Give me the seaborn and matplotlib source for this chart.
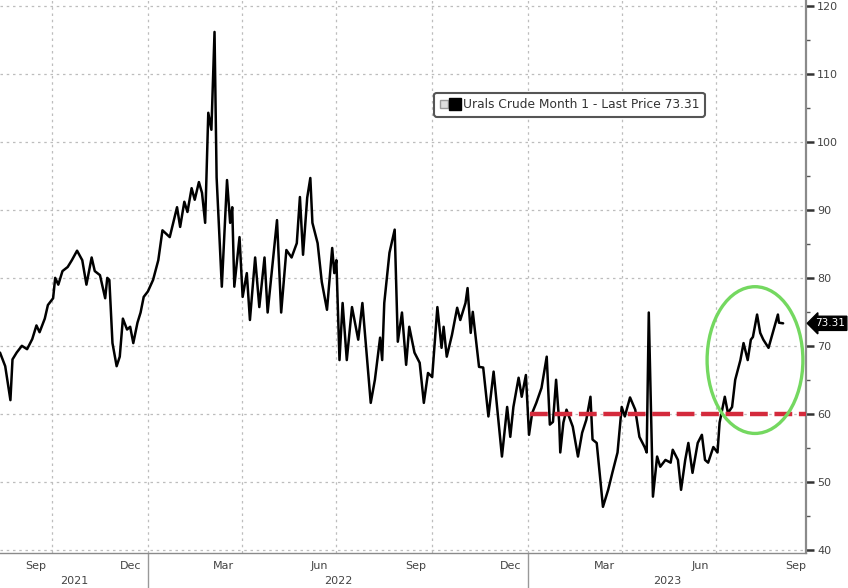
import matplotlib
matplotlib.use("Agg")
import matplotlib.pyplot as plt
import matplotlib.dates as mdates
import matplotlib.transforms as mtransforms
from matplotlib.patches import Ellipse
from matplotlib.lines import Line2D
from matplotlib.legend_handler import HandlerTuple
import pandas as pd
import seaborn as sns

# ---------------- data ----------------
dates = [
    "2021-08-12", "2021-08-17", "2021-08-22", "2021-08-24", "2021-08-28", "2021-09-02",
    "2021-09-07", "2021-09-12", "2021-09-16", "2021-09-19", "2021-09-24", "2021-09-27",
    "2021-10-02", "2021-10-04", "2021-10-07", "2021-10-11", "2021-10-16", "2021-10-20",
    "2021-10-25", "2021-10-30", "2021-11-03", "2021-11-08", "2021-11-11", "2021-11-16",
    "2021-11-21", "2021-11-23", "2021-11-25", "2021-11-28", "2021-12-02", "2021-12-05",
    "2021-12-08", "2021-12-12", "2021-12-15", "2021-12-18", "2021-12-22", "2021-12-25",
    "2021-12-28", "2022-01-01", "2022-01-06", "2022-01-11", "2022-01-15", "2022-01-22",
    "2022-01-29", "2022-02-01", "2022-02-05", "2022-02-08", "2022-02-12", "2022-02-15",
    "2022-02-19", "2022-02-22", "2022-02-25", "2022-02-28", "2022-03-03", "2022-03-06",
    "2022-03-08", "2022-03-13", "2022-03-18", "2022-03-21", "2022-03-23", "2022-03-25",
    "2022-03-30", "2022-04-02", "2022-04-06", "2022-04-09", "2022-04-14", "2022-04-18",
    "2022-04-23", "2022-04-26", "2022-05-05", "2022-05-09", "2022-05-14", "2022-05-19",
    "2022-05-24", "2022-05-27", "2022-05-30", "2022-06-03", "2022-06-06", "2022-06-08",
    "2022-06-13", "2022-06-17", "2022-06-22", "2022-06-27", "2022-06-29", "2022-07-01",
    "2022-07-04", "2022-07-07", "2022-07-11", "2022-07-16", "2022-07-22", "2022-07-26",
    "2022-07-30", "2022-08-03", "2022-08-07", "2022-08-12", "2022-08-14", "2022-08-16",
    "2022-08-21", "2022-08-26", "2022-08-29", "2022-09-02", "2022-09-06", "2022-09-09",
    "2022-09-14", "2022-09-19", "2022-09-23", "2022-09-27", "2022-10-01", "2022-10-06",
    "2022-10-10", "2022-10-12", "2022-10-15", "2022-10-20", "2022-10-25", "2022-10-28",
    "2022-11-02", "2022-11-04", "2022-11-07", "2022-11-09", "2022-11-15", "2022-11-19",
    "2022-11-24", "2022-11-29", "2022-12-07", "2022-12-12", "2022-12-15", "2022-12-18",
    "2022-12-23", "2022-12-26", "2022-12-30", "2023-01-02", "2023-01-05", "2023-01-09",
    "2023-01-14", "2023-01-19", "2023-01-22", "2023-01-25", "2023-01-28", "2023-01-31",
    "2023-02-01", "2023-02-04", "2023-02-07", "2023-02-13", "2023-02-18", "2023-02-22",
    "2023-02-26", "2023-03-02", "2023-03-04", "2023-03-08", "2023-03-14", "2023-03-19",
    "2023-03-23", "2023-03-28", "2023-04-01", "2023-04-04", "2023-04-09", "2023-04-14",
    "2023-04-18", "2023-04-23", "2023-04-25", "2023-04-27", "2023-05-01", "2023-05-05",
    "2023-05-08", "2023-05-13", "2023-05-18", "2023-05-20", "2023-05-25", "2023-05-28",
    "2023-06-01", "2023-06-04", "2023-06-08", "2023-06-13", "2023-06-17", "2023-06-20",
    "2023-06-23", "2023-06-28", "2023-07-02", "2023-07-04", "2023-07-09", "2023-07-12",
    "2023-07-16", "2023-07-19", "2023-07-24", "2023-07-27", "2023-07-31", "2023-08-03",
    "2023-08-05", "2023-08-09", "2023-08-12", "2023-08-15", "2023-08-20", "2023-08-24",
    "2023-08-29", "2023-08-30", "2023-09-03",
]
prices = [
    69.0, 67.0, 62.0, 68.0, 69.0, 70.0,
    69.5, 71.0, 73.0, 72.0, 74.0, 76.0,
    77.0, 80.0, 79.0, 81.0, 81.6, 82.6,
    84.0, 82.6, 79.0, 83.0, 81.0, 80.4,
    77.0, 80.0, 79.7, 70.4, 67.0, 68.4,
    74.0, 72.4, 72.8, 70.4, 73.4, 74.9,
    77.2, 78.0, 79.7, 82.6, 87.0, 86.0,
    90.4, 87.5, 91.2, 89.7, 93.2, 91.5,
    94.1, 92.5, 88.1, 104.3, 101.8, 116.2,
    94.8, 78.7, 94.4, 88.1, 90.4, 78.7,
    86.0, 77.2, 80.7, 73.8, 83.0, 75.7,
    83.0, 74.9, 88.5, 74.9, 84.1, 83.0,
    85.1, 91.9, 83.4, 91.8, 94.7, 88.1,
    85.1, 79.4, 75.3, 84.4, 80.7, 82.6,
    67.9, 76.3, 67.9, 75.7, 70.9, 76.3,
    69.0, 61.6, 65.0, 71.2, 67.9, 76.3,
    83.7, 87.1, 70.6, 74.9, 67.2, 72.8,
    69.0, 67.5, 61.6, 66.0, 65.4, 75.7,
    69.7, 72.8, 68.4, 71.6, 75.6, 73.8,
    76.3, 78.5, 71.9, 75.0, 66.9, 66.8,
    59.6, 66.2, 53.7, 61.0, 56.6, 61.0,
    65.3, 62.5, 65.7, 56.9, 60.1, 61.6,
    63.8, 68.4, 58.4, 58.8, 65.0, 58.7,
    54.3, 58.7, 60.6, 58.1, 53.7, 57.2,
    59.1, 62.5, 56.2, 55.7, 46.3, 48.8,
    51.3, 54.3, 61.0, 59.6, 62.4, 60.6,
    56.6, 55.1, 54.3, 74.9, 47.8, 53.7,
    52.2, 53.2, 52.8, 54.7, 53.2, 48.8,
    53.2, 55.7, 51.3, 55.7, 56.9, 53.2,
    52.8, 55.1, 54.3, 58.7, 62.5, 60.1,
    61.0, 65.0, 67.9, 70.4, 67.9, 70.9,
    71.3, 74.6, 71.9, 70.9, 69.7, 71.9,
    74.6, 73.4, 73.31,
]
series_label = "Urals Crude Month 1 - Last Price 73.31"
last_price = 73.31
price_cap = 60
cap_start = "2023-01-03"
y_ticks = [40, 50, 60, 70, 80, 90, 100, 110, 120]
month_labels = ["Sep", "Dec", "Mar", "Jun", "Sep", "Dec", "Mar", "Jun", "Sep"]
month_label_dates = ["2021-09-15", "2021-12-15", "2022-03-15", "2022-06-15", "2022-09-15",
                     "2022-12-15", "2023-03-15", "2023-06-15", "2023-09-15"]
year_labels = ["2021", "2022", "2023"]
year_starts = ["2022-01-01", "2023-01-01"]

# ---------------- styling ----------------
sns.set_style("white")
plt.rcParams['font.family'] = ['DejaVu Sans']

x_min = pd.Timestamp("2021-08-12")
x_max = pd.Timestamp("2023-09-25")

fig = plt.figure(figsize=(8.48, 5.88), dpi=100)
ax = fig.add_axes([0.0, 0.0595, 0.9505, 0.9405])

df = pd.DataFrame({"date": pd.to_datetime(dates), "price": prices})
sns.lineplot(data=df, x="date", y="price", color="black", linewidth=1.8, ax=ax)

ax.set_xlim(x_min, x_max)
ax.set_ylim(39.5, 120.9)
ax.set_xlabel("")
ax.set_ylabel("")

# y axis on the right
ax.yaxis.tick_right()
ax.set_yticks(y_ticks)
ax.set_yticks([v + 5 for v in y_ticks[:-1]], minor=True)
ax.tick_params(axis='y', which='major', direction='out', length=6, width=1.8,
               color='#333333', labelsize=8, labelcolor='#444444', pad=2)
ax.tick_params(axis='y', which='minor', direction='out', length=3, width=1,
               color='#555555')

# x axis: quarter gridlines, monthly ticks, custom labels
ax.xaxis.set_major_locator(mdates.MonthLocator(bymonth=[1, 4, 7, 10]))
ax.xaxis.set_minor_locator(mdates.MonthLocator())
ax.xaxis.set_major_formatter(plt.NullFormatter())
ax.tick_params(axis='x', which='major', direction='out', length=5, width=1, color='#777777')
ax.tick_params(axis='x', which='minor', direction='out', length=3, width=1, color='#777777')

ax.grid(which='major', axis='both', linestyle=(0, (2, 3)), color='#bdbdbd', linewidth=0.9)

for s in ["left", "top"]:
    ax.spines[s].set_visible(False)
ax.spines["right"].set_color("#8a8a8a")
ax.spines["right"].set_linewidth(1.6)
ax.spines["bottom"].set_color("#8a8a8a")
ax.spines["bottom"].set_linewidth(1.0)

trans = mtransforms.blended_transform_factory(ax.transData, ax.transAxes)
for lab, d in zip(month_labels, month_label_dates):
    ax.text(pd.Timestamp(d), -0.023, lab, transform=trans, ha='center', va='center',
            fontsize=8, color='#444444')

year_bounds = [x_min] + [pd.Timestamp(d) for d in year_starts] + [x_max]
for i, lab in enumerate(year_labels):
    mid = year_bounds[i] + (year_bounds[i + 1] - year_bounds[i]) / 2
    ax.text(mid, -0.05, lab, transform=trans, ha='center', va='center',
            fontsize=8, color='#444444')
for d in year_starts:
    ax.plot([pd.Timestamp(d)] * 2, [0, -0.07], transform=trans, color='#999999',
            linewidth=1, clip_on=False)

# price cap line
ax.plot([pd.Timestamp(cap_start), x_max], [price_cap, price_cap], color="#d42a3c",
        linewidth=3.2, dashes=(4, 1.5), solid_capstyle='butt', zorder=4)

# green highlight ellipse
ell = Ellipse((mdates.date2num(pd.Timestamp("2023-08-07")), 67.9), width=92, height=21.6,
              fill=False, edgecolor="#74d860", linewidth=2.4, zorder=5)
ax.add_patch(ell)

# last price tag
ax.text(1.011, last_price, f"{last_price:.2f}",
        transform=mtransforms.blended_transform_factory(ax.transAxes, ax.transData),
        ha='left', va='center', fontsize=7.5, color='white', clip_on=False,
        bbox=dict(boxstyle='larrow,pad=0.2', fc='black', ec='black'))

# legend
handles = [(Line2D([], [], marker='s', color='#dddddd', mec='#999999', ms=6, ls='none'),
            Line2D([], [], marker='s', color='black', ms=9, ls='none'))]
leg = ax.legend(handles, [series_label], handler_map={tuple: HandlerTuple(ndivide=None, pad=0.1)},
                loc='upper left', bbox_to_anchor=(0.531, 0.843), frameon=True, fancybox=True,
                edgecolor='#555555', framealpha=1, fontsize=8.8, handlelength=1.6,
                handletextpad=0.3, borderpad=0.45, labelcolor='#333333')
leg.get_frame().set_linewidth(1.5)

fig.savefig("out.png", dpi=100)
